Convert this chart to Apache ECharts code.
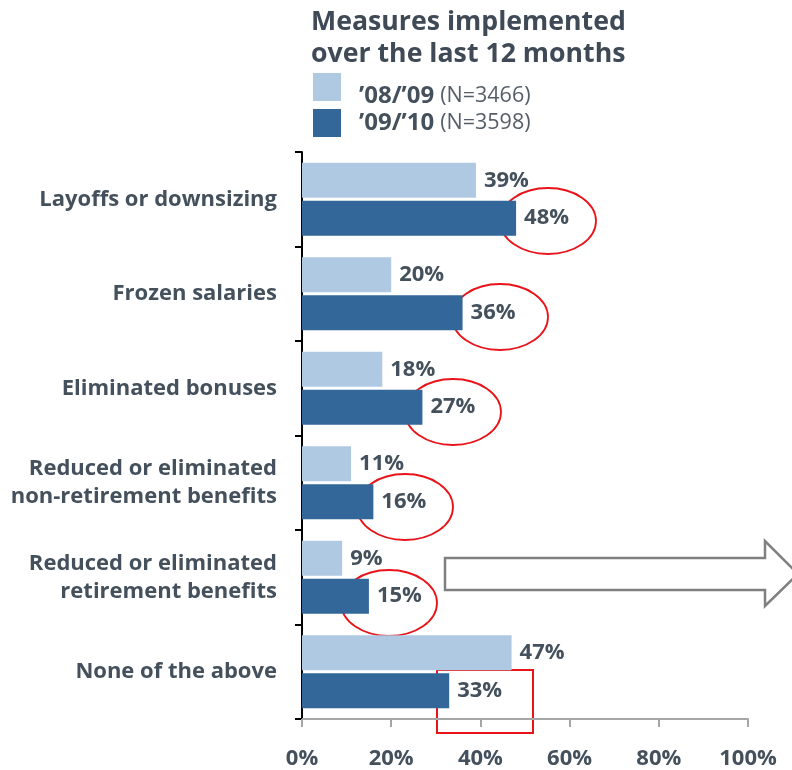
<!DOCTYPE html>
<html>
<head>
<meta charset="utf-8">
<script src="https://cdn.jsdelivr.net/npm/echarts@6/dist/echarts.min.js"></script>
<style>
  html, body { margin: 0; padding: 0; background: #fff; }
  #chart { width: 792px; height: 770px; }
</style>
</head>
<body>
<div id="chart"></div>
<script>
  // categories, top to bottom
  var categories = [
    'Layoffs or downsizing',
    'Frozen salaries',
    'Eliminated bonuses',
    'Reduced or eliminated\nnon-retirement benefits',
    'Reduced or eliminated\nretirement benefits',
    'None of the above'
  ];
  var seriesNames = ['\u201908/\u201909', '\u201909/\u201910'];
  var sampleSizes = ['N=3466', 'N=3598'];
  var values0809 = [39, 20, 18, 11, 9, 47];
  var values0910 = [48, 36, 27, 16, 15, 33];
  var xTicks = [0, 20, 40, 60, 80, 100];

  var textColor = '#44505c';
  var font = 'Open Sans';

  var chart = echarts.init(document.getElementById('chart'));

  function barSeries(name, data, color) {
    return {
      name: name,
      type: 'bar',
      data: data,
      barWidth: 35,
      barGap: '8%',
      itemStyle: { color: color },
      label: {
        show: true,
        position: 'right',
        distance: 8,
        formatter: '{c}%',
        color: textColor,
        fontFamily: font,
        fontWeight: 'bold',
        fontSize: 22
      }
    };
  }

  // legend text sits a little below its colour square
  function legendText(padTop, lh) {
    return {
      padding: [padTop, 0, 0, 13],
      rich: {
        b: { color: textColor, fontFamily: font, fontWeight: 'bold', fontSize: 24, lineHeight: lh },
        n: { color: '#555e68', fontFamily: font, fontSize: 21.5, lineHeight: lh, padding: [0, 0, 0, 6] }
      }
    };
  }

  chart.setOption({
    animation: false,
    title: {
      text: 'Measures implemented\nover the last 12 months',
      left: 311,
      top: 6,
      padding: 0,
      textStyle: {
        color: '#3f4a56',
        fontFamily: font,
        fontWeight: 'bold',
        fontSize: 26.7,
        lineHeight: 32
      }
    },
    legend: {
      orient: 'vertical',
      left: 313,
      top: 73,
      padding: 0,
      icon: 'rect',
      itemWidth: 28,
      itemHeight: 28,
      itemGap: 1,
      selectedMode: false,
      data: [
        { name: seriesNames[0], textStyle: legendText(18, 10) },
        { name: seriesNames[1], textStyle: legendText(0, 28) }
      ],
      formatter: function (name) {
        var i = seriesNames.indexOf(name);
        return '{b|' + name + '}{n|(' + sampleSizes[i] + ')}';
      }
    },
    grid: { left: 302, right: 44, top: 152, bottom: 50, containLabel: false },
    xAxis: {
      type: 'value',
      min: 0,
      max: 100,
      interval: 20,
      axisLine: { show: true, lineStyle: { color: '#a6a6a6', width: 2 } },
      axisTick: { show: true, length: 8, lineStyle: { color: '#a6a6a6', width: 2 } },
      splitLine: { show: false },
      axisLabel: {
        formatter: function (v) { return xTicks.indexOf(v) >= 0 ? v + '%' : ''; },
        margin: 29,
        color: textColor,
        fontFamily: font,
        fontWeight: 'bold',
        fontSize: 22
      }
    },
    yAxis: {
      type: 'category',
      inverse: true,
      data: categories,
      axisLine: { show: true, lineStyle: { color: '#000', width: 2 } },
      axisTick: { show: true, length: 7, lineStyle: { color: '#000', width: 2 } },
      axisLabel: {
        margin: 25,
        align: 'right',
        color: textColor,
        fontFamily: font,
        fontWeight: 'bold',
        fontSize: 22,
        lineHeight: 28
      }
    },
    series: [
      barSeries(seriesNames[0], values0809, '#afc9e3'),
      barSeries(seriesNames[1], values0910, '#336699')
    ],
    graphic: [
      // red ellipses around the '09/'10 labels
      { type: 'ellipse', shape: { cx: 548, cy: 221, rx: 48, ry: 33 }, style: { fill: 'none', stroke: '#e8141a', lineWidth: 1.8 } },
      { type: 'ellipse', shape: { cx: 500, cy: 317, rx: 48, ry: 33 }, style: { fill: 'none', stroke: '#e8141a', lineWidth: 1.8 } },
      { type: 'ellipse', shape: { cx: 453, cy: 412, rx: 48, ry: 33 }, style: { fill: 'none', stroke: '#e8141a', lineWidth: 1.8 } },
      { type: 'ellipse', shape: { cx: 405, cy: 507, rx: 48, ry: 33 }, style: { fill: 'none', stroke: '#e8141a', lineWidth: 1.8 } },
      { type: 'ellipse', shape: { cx: 389, cy: 603, rx: 48, ry: 33 }, style: { fill: 'none', stroke: '#e8141a', lineWidth: 1.8 } },
      // red box around 33%
      { type: 'rect', shape: { x: 437, y: 670, width: 96, height: 63 }, style: { fill: 'none', stroke: '#e8141a', lineWidth: 2 } },
      // outlined arrow pointing right
      {
        type: 'polygon',
        shape: { points: [[445, 558], [765, 558], [765, 541], [798, 574], [765, 606], [765, 590], [445, 590]] },
        style: { fill: '#fff', stroke: '#808080', lineWidth: 2.5 }
      }
    ]
  });
</script>
</body>
</html>
